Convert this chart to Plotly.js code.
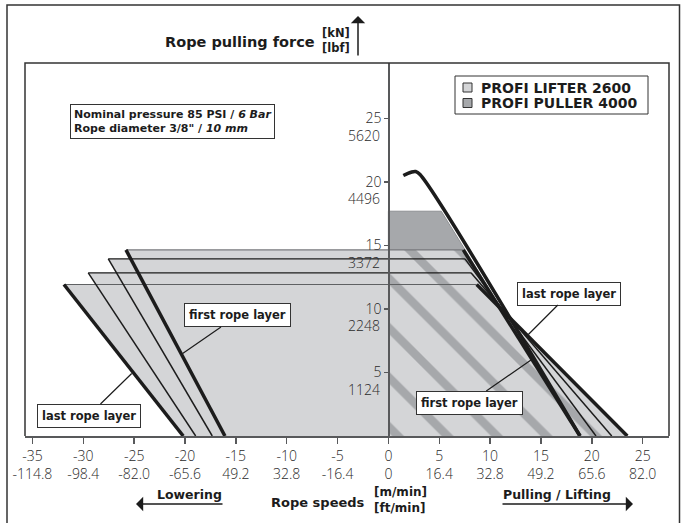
<!DOCTYPE html>
<html><head><meta charset="utf-8">
<script src="https://cdn.plot.ly/plotly-3.0.1.min.js"></script>
<style>html,body{margin:0;padding:0;background:#fff}#chart{width:683px;height:523px}</style>
</head><body><div id="chart"></div>
<script>
// ---------------- data ----------------
const layerForce        = [14.65, 13.95, 12.85, 11.93];     // kN, max force per rope layer
const lowerCornerSpeed  = [-25.80, -27.54, -29.51, -31.90]; // m/min at max force (lowering)
const lowerEndSpeed     = [-16.07, -17.32, -18.95, -20.17]; // m/min at zero force (lowering)
const liftCornerSpeed   = [7.36, 7.53, 8.12, 8.68];         // m/min at max force (lifting)
const liftEndSpeed      = [18.84, 20.41, 21.96, 23.49];     // m/min at zero force (lifting)
const pullerForce       = 17.70;
const pullerCornerSpeed = 5.20;
const pullerEndSpeed    = 18.84;
const pullerCurveX      = [1.47, 2.22, 2.68, 3.11, 18.84];
const pullerCurveY      = [20.51, 20.77, 20.83, 20.59, 0];

const xTickVals     = [-35, -30, -25, -20, -15, -10, -5, 0, 5, 10, 15, 20, 25];
const xTickMetric   = ['-35','-30','-25','-20','-15','-10','-5','0','5','10','15','20','25'];
const xTickImperial = ['-114.8','-98.4','-82.0','-65.6','49.2','32.8','-16.4','0','16.4','32.8','49.2','65.6','82.0'];
const yTickVals     = [5, 10, 15, 20, 25];
const yTickMetric   = ['5','10','15','20','25'];
const yTickImperial = ['1124','2248','3372','4496','5620'];

const legendNames = ['PROFI LIFTER 2600', 'PROFI PULLER 4000'];
const labelText   = ['first rope layer', 'last rope layer', 'first rope layer', 'last rope layer'];
const labelX      = [-20.23, -25.24, 14.09, 13.76];
const labelY      = [6.50, 4.92, 6.02, 7.99];

// ---------------- styles / positions ----------------
const LIGHT = '#d4d5d7', DARK = '#a6a8ab', INK = '#1c1c1c', AXC = '#58595b';
const BOLD = 'DejaVu Sans', LIGHTF = 'Open Sans';
const labelAX = [55, -43, -62, 41], labelAY = [-38, 42, 43, -41];
const layerWidth = [3.5, 1.5, 1.5, 3.5];
const layerHColor = ['#77797c', INK, INK, '#5f6163'];
const M = {l: 25, r: 14, t: 63, b: 87}, W = 683, H = 523;
const PW = W - M.l - M.r, PH = H - M.t - M.b;
const px = v => (v - M.l) / PW;
const py = v => (M.t + PH - v) / PH;
const xRange = [-35.73, 27.59];
const yRange = [0, 29.37];
const legendSwatch = [LIGHT, DARK];
const legendBox = {x0: 455, x1: 648, y0: 76, y1: 114};
const legendRowY = [87.5, 103];

const traces = [];
// PULLER area (dark grey)
traces.push({x: [0, 0, pullerCornerSpeed, pullerEndSpeed, 0], y: [0, pullerForce, pullerForce, 0, 0],
  mode: 'lines', fill: 'toself', fillcolor: DARK, line: {color: '#8e9093', width: 1},
  name: legendNames[1], showlegend: false, hoverinfo: 'skip'});
// LIFTER areas (lifting side, striped)
for (let i = 0; i < layerForce.length; i++) {
  traces.push({x: [0, 0, liftCornerSpeed[i], liftEndSpeed[i], 0], y: [0, layerForce[i], layerForce[i], 0, 0],
    mode: 'none', fill: 'toself', fillcolor: LIGHT, name: legendNames[0],
    fillpattern: {shape: '\\', bgcolor: LIGHT, fgcolor: DARK, size: 35, solidity: 0.24, fillmode: 'replace'},
    showlegend: false, hoverinfo: 'skip'});
}
// lowering side areas
for (let i = 0; i < layerForce.length; i++) {
  traces.push({x: [0, 0, lowerCornerSpeed[i], lowerEndSpeed[i], 0], y: [0, layerForce[i], layerForce[i], 0, 0],
    mode: 'none', fill: 'toself', fillcolor: LIGHT, name: legendNames[0], showlegend: false, hoverinfo: 'skip'});
}
// horizontal max-force lines
for (let i = 0; i < layerForce.length; i++) {
  traces.push({x: [lowerCornerSpeed[i], liftCornerSpeed[i]], y: [layerForce[i], layerForce[i]],
    mode: 'lines', line: {color: layerHColor[i], width: 1.2}, showlegend: false, hoverinfo: 'skip'});
}
// diagonal characteristic lines
for (let i = 0; i < layerForce.length; i++) {
  traces.push({x: [lowerCornerSpeed[i], lowerEndSpeed[i]], y: [layerForce[i], 0],
    mode: 'lines', line: {color: INK, width: layerWidth[i]}, showlegend: false, hoverinfo: 'skip'});
  traces.push({x: [liftCornerSpeed[i], liftEndSpeed[i]], y: [layerForce[i], 0],
    mode: 'lines', line: {color: INK, width: layerWidth[i]}, showlegend: false, hoverinfo: 'skip'});
}
// PULLER curve
traces.push({x: pullerCurveX, y: pullerCurveY, mode: 'lines',
  line: {color: INK, width: 3.5, shape: 'spline', smoothing: 1}, showlegend: false, hoverinfo: 'skip'});

const ann = [];
// imperial y tick labels
yTickVals.forEach((v, i) => ann.push({x: 0, y: v, xref: 'x', yref: 'y', text: yTickImperial[i],
  showarrow: false, xanchor: 'right', yanchor: 'middle', xshift: -6.5, yshift: -16.5,
  font: {family: LIGHTF, size: 14, color: '#2a2a2a', weight: 300}}));
// axis titles
ann.push({xref: 'paper', yref: 'paper', x: px(317), y: py(42), xanchor: 'right', yanchor: 'middle',
  text: 'Rope pulling force', showarrow: false, font: {family: BOLD, size: 14.5, color: INK, weight: 'bold'}});
ann.push({xref: 'paper', yref: 'paper', x: px(320), y: py(41), xanchor: 'left', yanchor: 'middle',
  text: '[kN]<br>[lbf]', showarrow: false, align: 'left', font: {family: BOLD, size: 11.5, color: INK, weight: 'bold'}});
ann.push({xref: 'paper', yref: 'paper', x: px(358), y: py(16), text: '', showarrow: true, ax: 0, ay: 41,
  arrowhead: 1, arrowsize: 1.6, arrowwidth: 1.5, arrowcolor: INK});
ann.push({xref: 'paper', yref: 'paper', x: px(367), y: py(502), xanchor: 'right', yanchor: 'middle',
  text: 'Rope speeds', showarrow: false, font: {family: BOLD, size: 13, color: INK, weight: 'bold'}});
ann.push({xref: 'paper', yref: 'paper', x: px(372), y: py(500), xanchor: 'left', yanchor: 'middle',
  text: '[m/min]<br>[ft/min]', showarrow: false, align: 'left', font: {family: BOLD, size: 12, color: INK, weight: 'bold'}});
ann.push({xref: 'paper', yref: 'paper', x: px(189), y: py(494), xanchor: 'center', yanchor: 'middle',
  text: 'Lowering', showarrow: false, font: {family: BOLD, size: 12.5, color: INK, weight: 'bold'}});
ann.push({xref: 'paper', yref: 'paper', x: px(136), y: py(504), text: '', showarrow: true, ax: 88, ay: 0,
  arrowhead: 1, arrowsize: 1.6, arrowwidth: 1.5, arrowcolor: INK});
ann.push({xref: 'paper', yref: 'paper', x: px(557), y: py(494), xanchor: 'center', yanchor: 'middle',
  text: 'Pulling / Lifting', showarrow: false, font: {family: BOLD, size: 12.5, color: INK, weight: 'bold'}});
ann.push({xref: 'paper', yref: 'paper', x: px(633), y: py(504), text: '', showarrow: true, ax: -132, ay: 0,
  arrowhead: 1, arrowsize: 1.6, arrowwidth: 1.5, arrowcolor: INK});
// info box
ann.push({xref: 'paper', yref: 'paper', x: px(69.5), y: py(103.5), xanchor: 'left', yanchor: 'top', align: 'left',
  text: 'Nominal pressure 85 PSI / <i>6 Bar</i><br>Rope diameter 3/8" / <i>10 mm</i>', showarrow: false,
  bgcolor: '#fff', bordercolor: '#333', borderwidth: 1, borderpad: 3,
  font: {family: BOLD, size: 11, color: INK, weight: 'bold'}});
// legend texts (box and swatches are shapes)
legendNames.forEach((n, i) => ann.push({xref: 'paper', yref: 'paper', x: px(479), y: py(legendRowY[i]),
  xanchor: 'left', yanchor: 'middle', text: n, showarrow: false,
  font: {family: BOLD, size: 14, color: INK, weight: 'bold'}}));
// rope layer labels
labelText.forEach((t, i) => ann.push({x: labelX[i], y: labelY[i], xref: 'x', yref: 'y', text: t,
  showarrow: true, arrowhead: 0, arrowwidth: 1.2, arrowcolor: INK, ax: labelAX[i], ay: labelAY[i],
  bgcolor: '#fff', bordercolor: '#333', borderwidth: 1, borderpad: 4,
  font: {family: BOLD, size: 11.5, color: INK, weight: 'bold'}}));

const shapes = [
  {type: 'path', xref: 'paper', yref: 'paper', path: 'M0,0V1H1V0', line: {color: '#333', width: 1.5}, layer: 'above'},
  {type: 'path', xref: 'paper', yref: 'paper',
   path: `M${px(7)},${py(523)}V${py(5)}H${px(679.5)}V${py(523)}`, line: {color: '#333', width: 1.5}, layer: 'above'},
  {type: 'rect', xref: 'paper', yref: 'paper', x0: px(legendBox.x0), x1: px(legendBox.x1),
   y0: py(legendBox.y1), y1: py(legendBox.y0), fillcolor: '#fff', line: {color: '#333', width: 1}, layer: 'above'}
];
legendSwatch.forEach((c, i) => shapes.push({type: 'rect', xref: 'paper', yref: 'paper',
  x0: px(463), x1: px(472), y0: py(legendRowY[i] + 4.5), y1: py(legendRowY[i] - 4.5),
  fillcolor: c, line: {color: '#333', width: 1}, layer: 'above'}));

const layout = {
  width: W, height: H, margin: M, paper_bgcolor: '#fff', plot_bgcolor: '#fff', showlegend: false,
  xaxis: {range: xRange, tickvals: xTickVals,
    ticktext: xTickMetric.map((t, i) => t + '<br>' + xTickImperial[i]),
    ticks: 'outside', ticklen: 6, tickwidth: 1.5, tickcolor: AXC, showline: true, linecolor: AXC, linewidth: 2,
    showgrid: false, zeroline: false, tickfont: {family: LIGHTF, size: 14, color: '#2a2a2a', weight: 300}},
  yaxis: {range: yRange, anchor: 'free', position: (0 - xRange[0]) / (xRange[1] - xRange[0]),
    tickvals: yTickVals, ticktext: yTickMetric, ticks: 'outside', ticklen: 4, tickwidth: 1.5, tickcolor: AXC,
    showline: true, linecolor: AXC, linewidth: 1.5, showgrid: false, zeroline: false,
    tickfont: {family: LIGHTF, size: 14, color: '#2a2a2a', weight: 300}},
  annotations: ann, shapes: shapes
};
Plotly.newPlot('chart', traces, layout, {displayModeBar: false, staticPlot: true});
</script></body></html>
